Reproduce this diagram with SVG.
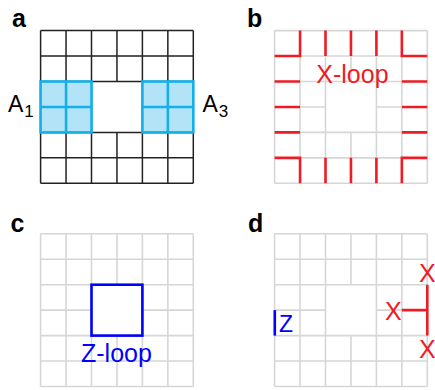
<svg xmlns="http://www.w3.org/2000/svg" xmlns:xlink="http://www.w3.org/1999/xlink" width="435" height="390" viewBox="0 0 435 390">
<style>
.lbl{font-family:"Liberation Sans",Arial,sans-serif;font-weight:bold;font-size:25px;fill:#000}
.t{font-family:"Liberation Sans",Arial,sans-serif;font-size:25px}
.blk{fill:none;stroke:#222;stroke-width:1.5}
.gry{fill:none;stroke:#d6d6d6;stroke-width:1.6}
.red{fill:none;stroke:#ee1c25;stroke-width:2.6;stroke-linejoin:miter;stroke-linecap:butt}
.blu{fill:none;stroke:#0000ff;stroke-width:2.6;stroke-linejoin:miter}
.cy{fill:#b3e3f7;stroke:#13b0ec;stroke-width:2.6}
.cyl{fill:none;stroke:#13b0ec;stroke-width:2.6}
</style>
<defs>
<path id="grid" d="M0 0V152.7M25.45 0V152.7M50.9 0V152.7M76.35 0V50.9M76.35 101.8V152.7M101.8 0V152.7M127.25 0V152.7M152.7 0V152.7M0 0H152.7M0 25.45H152.7M0 50.9H152.7M0 76.35H50.9M101.8 76.35H152.7M0 101.8H152.7M0 127.25H152.7M0 152.7H152.7"/>
</defs>
<g id="panel-a">
<text class="lbl" x="12" y="26.7">a</text>
<use xlink:href="#grid" href="#grid" class="blk" transform="translate(40.6 30.6)"/>
<g id="A1">
<rect class="cy" x="40.6" y="81.5" width="50.9" height="50.9"/>
<path class="cyl" d="M66.05 81.5V132.4M40.6 106.95H91.5"/>
<text class="t" style="font-size:23px" x="8" y="111.5">A<tspan style="font-size:17px" dx="1" dy="5">1</tspan></text>
</g>
<g id="A3">
<rect class="cy" x="142.4" y="81.5" width="50.9" height="50.9"/>
<path class="cyl" d="M167.85 81.5V132.4M142.4 106.95H193.3"/>
<text class="t" style="font-size:23px" x="202.5" y="111.5">A<tspan style="font-size:17px" dx="1" dy="5">3</tspan></text>
</g>
</g>
<g id="panel-b">
<text class="lbl" x="247" y="26.7">b</text>
<use xlink:href="#grid" href="#grid" class="gry" transform="translate(274.6 30.6)"/>
<path class="red" d="M300.05 30.6V56.05H274.6M325.5 30.6V56.05M350.95 30.6V56.05M376.4 30.6V56.05M401.85 30.6V56.05H427.3M274.6 81.5H300.05M274.6 106.95H300.05M274.6 132.4H300.05M401.85 81.5H427.3M401.85 106.95H427.3M401.85 132.4H427.3M274.6 157.85H300.05V183.3M325.5 157.85V183.3M350.95 157.85V183.3M376.4 157.85V183.3M401.85 183.3V157.85H427.3"/>
<text class="t" x="316.3" y="83.3" fill="#ee1c25">X-loop</text>
</g>
<g id="panel-c">
<text class="lbl" x="10.5" y="232">c</text>
<use xlink:href="#grid" href="#grid" class="gry" transform="translate(40.6 233.8)"/>
<rect class="blu" x="91.5" y="284.7" width="50.9" height="50.9"/>
<text class="t" x="81" y="361.5" fill="#0000ff">Z-loop</text>
</g>
<g id="panel-d">
<text class="lbl" x="248" y="232">d</text>
<use xlink:href="#grid" href="#grid" class="gry" transform="translate(274.6 233.8)"/>
<path class="red" d="M401.85 310.15H427.3M427.3 284.7V335.6"/>
<text class="t" x="419" y="281.7" fill="#ee1c25">X</text>
<text class="t" x="385" y="320" fill="#ee1c25">X</text>
<text class="t" x="419" y="357.7" fill="#ee1c25">X</text>
<path class="blu" d="M274.8 310.15V335.6"/>
<text class="t" style="font-size:23px" x="279" y="331.7" fill="#0000ff">Z</text>
</g>
</svg>
